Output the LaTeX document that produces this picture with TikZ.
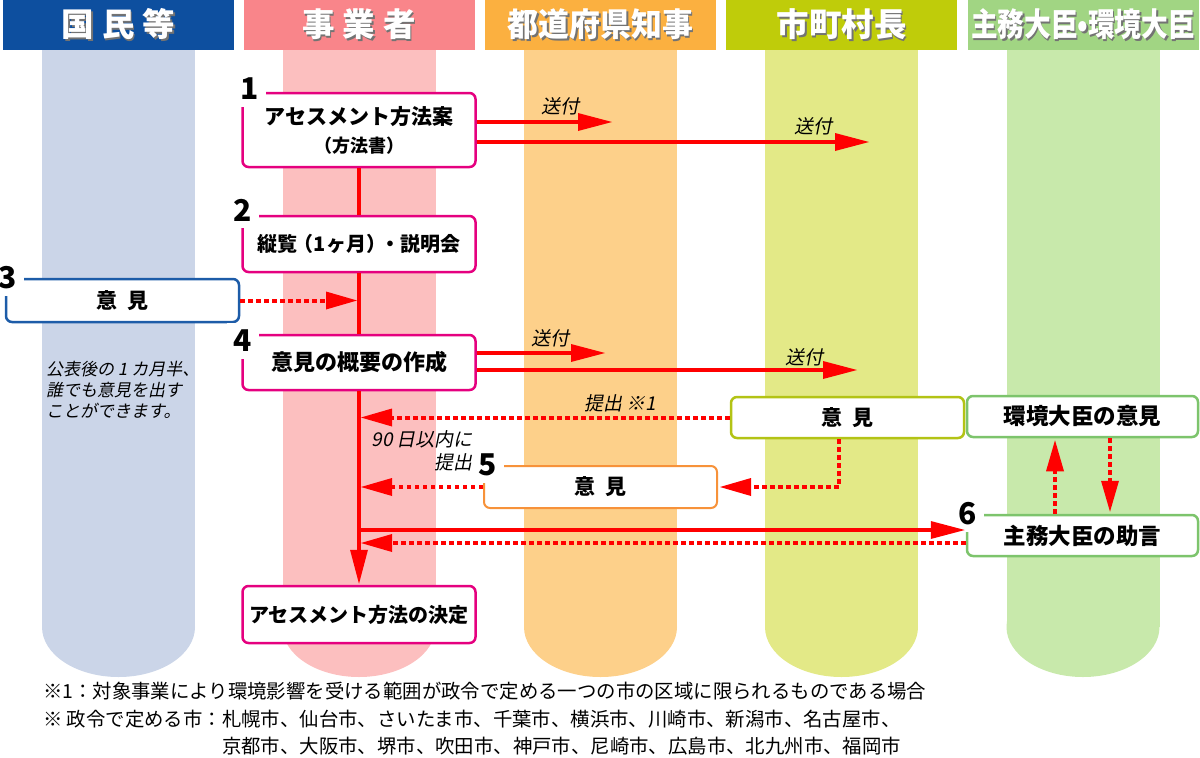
\documentclass[tikz,border=0pt]{standalone}
\usepackage{fontspec}
\setmainfont{Noto Sans CJK JP}
\newfontfamily\slantfont{Noto Sans CJK JP}[FakeSlant=0.2]
\usetikzlibrary{arrows.meta}
\definecolor{hdrBlue}{HTML}{0D4F9F}
\definecolor{hdrPink}{HTML}{F9858A}
\definecolor{hdrOrange}{HTML}{FBB040}
\definecolor{hdrOlive}{HTML}{BFCC0A}
\definecolor{hdrGreen}{HTML}{A1D583}
\definecolor{laneBlue}{HTML}{CBD5E8}
\definecolor{lanePink}{HTML}{FCBFBF}
\definecolor{laneOrange}{HTML}{FDD08A}
\definecolor{laneOlive}{HTML}{E3E987}
\definecolor{laneGreen}{HTML}{C8E9AB}
\definecolor{boxPink}{HTML}{E5007F}
\definecolor{boxBlue}{HTML}{1D5CA8}
\definecolor{boxOlive}{HTML}{B3C315}
\definecolor{boxOrange}{HTML}{F7923A}
\definecolor{boxGreen}{HTML}{7DC46C}
\definecolor{arrowRed}{HTML}{FF0000}
\newcommand{\hdrtext}[1]{\makebox[0pt][l]{\hspace*{1.5pt}\raisebox{-1.5pt}{\textcolor{black!55}{#1}}}\textcolor{white}{#1}}
\tikzset{
  hdr/.style={minimum width=231pt,minimum height=50pt,inner sep=0pt,font=\bfseries\fontsize{32.5}{32.5}\selectfont},
  stepbox/.style={draw,fill=white,rounded corners=6pt,line width=2.5pt,inner sep=0pt,align=center,font=\bfseries\fontsize{21}{27}\selectfont},
  stepnum/.style={fill=white,inner sep=0pt,minimum width=32pt,minimum height=36pt,font=\bfseries\fontsize{30}{30}\selectfont},
  spine/.style={draw=arrowRed,line width=4.5pt},
  send/.style={spine,-{Triangle[length=34pt,width=18pt,line width=0pt]},shorten >=1pt},
  feedback/.style={draw=arrowRed,line width=4pt,dash pattern=on 4.5pt off 3.5pt,-{Triangle[length=31pt,width=18pt,line width=0pt]},shorten >=2pt},
  lbl/.style={inner sep=0pt,font=\slantfont\fontsize{19}{23}\selectfont},
}
\begin{document}
\begin{tikzpicture}[yscale=-1,x=1pt,y=1pt]
\useasboundingbox (0,0) rectangle (1200,758);
\foreach \cx/\col in {118.5/laneBlue,359/lanePink,600.5/laneOrange,841.5/laneOlive,1083/laneGreen}{
  \fill[\col] (\cx-76.5,50) rectangle (\cx+76.5,627);
  \fill[\col] (\cx,627) ellipse [x radius=76.5,y radius=50];
}
\node[hdr,fill=hdrBlue] (hPublic) at (118.5,25) {\hdrtext{国\hspace{8pt}民\hspace{8pt}等}};
\node[hdr,fill=hdrPink] (hOperator) at (359,25) {\hdrtext{事\hspace{8pt}業\hspace{8pt}者}};
\node[hdr,fill=hdrOrange] (hGovernor) at (600.5,25) {\hdrtext{\scalebox{0.95}[1]{都道府県知事}}};
\node[hdr,fill=hdrOlive] (hMayor) at (841.5,25) {\hdrtext{市町村長}};
\node[hdr,fill=hdrGreen] (hMinister) at (1083,25) {\hdrtext{\scalebox{0.82}[1]{主務大臣•環境大臣}}};
\node[stepbox,draw=boxPink,minimum width=233pt,minimum height=74pt] (plan) at (359,130) {アセスメント方法案\\[1pt]{\fontsize{18}{20}\selectfont （方法書）}};
\node[stepbox,draw=boxPink,minimum width=233pt,minimum height=56pt,font=\bfseries\fontsize{20}{24}\selectfont] (review) at (359,244) {縦覧\hspace{-4pt}（1ヶ月）\hspace{-6pt}・説明会};
\node[stepbox,draw=boxBlue,minimum width=233pt,minimum height=43pt] (publicOp) at (122.5,300.5) {意\hspace{10pt}見};
\node[stepbox,draw=boxPink,minimum width=233pt,minimum height=55pt,font=\bfseries\fontsize{22}{26}\selectfont] (summary) at (359,362.5) {意見の概要の作成};
\node[stepbox,draw=boxPink,minimum width=233pt,minimum height=57pt,font=\bfseries\fontsize{20}{24}\selectfont] (decision) at (359,614.5) {アセスメント方法の決定};
\node[stepbox,draw=boxOlive,minimum width=233pt,minimum height=41pt] (cityOp) at (847.5,417.5) {意\hspace{10pt}見};
\node[stepbox,draw=boxGreen,minimum width=231pt,minimum height=41pt,font=\bfseries\fontsize{22.5}{26}\selectfont] (envOp) at (1082.5,416.5) {環境大臣の意見};
\node[stepbox,draw=boxGreen,minimum width=231pt,minimum height=41pt,font=\bfseries\fontsize{22.5}{26}\selectfont] (advice) at (1082.5,535.5) {主務大臣の助言};
\node[stepbox,draw=boxOrange,line width=2pt,minimum width=233pt,minimum height=42pt] (prefOp) at (600.5,487) {意\hspace{10pt}見};
\node[stepnum] (n1) at (250,89) {1};
\node[stepnum] (n2) at (243,210) {2};
\node[stepnum] (n3) at (8,278) {3};
\node[stepnum] (n4) at (243,341) {4};
\node[stepnum] (n5) at (488,465) {5};
\node[stepnum] (n6) at (968,514) {6};
\coordinate (prefGet1) at (613,122);
\coordinate (cityGet1) at (870,142);
\coordinate (prefGet2) at (606,353);
\coordinate (cityGet2) at (858,370);
\coordinate (adviceIn) at ([yshift=-5.5pt]advice.west);
\coordinate (adviceOut) at ([yshift=7.5pt]advice.west);
\draw[spine] (plan) -- (review);
\draw[spine] (review) -- (summary);
\draw[send] (summary) -- (decision);
\draw[send] (plan.east |- prefGet1) -- (prefGet1);
\draw[send] (plan.east |- cityGet1) -- (cityGet1);
\draw[send] (summary.east |- prefGet2) -- (prefGet2);
\draw[send] (summary.east |- cityGet2) -- (cityGet2);
\draw[feedback] (publicOp.east) -- (summary.north |- publicOp.east);
\draw[feedback] (cityOp.west) -- (summary.south |- cityOp.west);
\draw[feedback] ([xshift=-8.5pt]cityOp.south) |- (prefOp.east);
\draw[feedback] (prefOp.west) -- (summary.south |- prefOp.west);
\draw[send] (summary.south |- adviceIn) -- (adviceIn);
\draw[feedback] (adviceOut) -- (summary.south |- adviceOut);
\draw[feedback] ([xshift=-27.5pt]advice.north) -- ([xshift=-27.5pt]envOp.south);
\draw[feedback] ([xshift=27.5pt]envOp.south) -- ([xshift=27.5pt]advice.north);
\node[lbl] (sendA) at (560,106) {送付};
\node[lbl] (sendB) at (813,126) {送付};
\node[lbl] (sendC) at (550,338) {送付};
\node[lbl] (sendD) at (804,357) {送付};
\node[lbl] (submitCity) at (620,403) {提出\hspace{4pt}※1};
\node[lbl,align=right,anchor=north east] (deadline) at (473,430) {90 日以内に\\提出};
\node[lbl,font=\slantfont\fontsize{17}{21}\selectfont,align=left,anchor=north west] (publicNote) at (46,361) {公表後の 1 カ月半、\\誰でも意見を出す\\ことができます。};
\node[anchor=west,inner sep=0pt,font=\fontsize{19.4}{27}\selectfont] (note1) at (43,691) {※1：対象事業により環境影響を受ける範囲が政令で定める一つの市の区域に限られるものである場合};
\node[anchor=north west,inner sep=0pt,font=\fontsize{19.4}{27}\selectfont] (note2) at (43,707) {\begin{tabular}{@{}l@{}l@{}}※ 政令で定める市：&札幌市、仙台市、さいたま市、千葉市、横浜市、川崎市、新潟市、名古屋市、\\&京都市、大阪市、堺市、吹田市、神戸市、尼崎市、広島市、北九州市、福岡市\end{tabular}};
\end{tikzpicture}
\end{document}
